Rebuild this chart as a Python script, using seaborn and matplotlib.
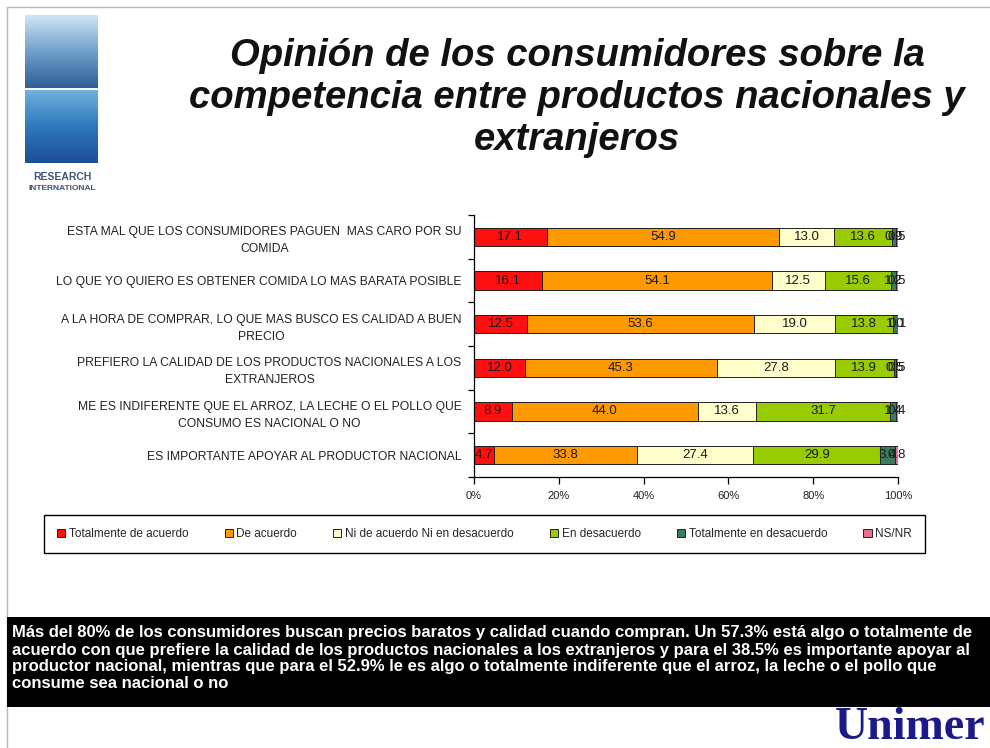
import numpy as np
import pandas as pd
import matplotlib
matplotlib.use("Agg")
import matplotlib.pyplot as plt
from matplotlib.patches import Rectangle, Patch
import seaborn as sns

# ---------------- data ----------------
categories = [
    "ESTA MAL QUE LOS CONSUMIDORES PAGUEN  MAS CARO POR SU\nCOMIDA",
    "LO QUE YO QUIERO ES OBTENER COMIDA LO MAS BARATA POSIBLE",
    "A LA HORA DE COMPRAR, LO QUE MAS BUSCO ES CALIDAD A BUEN\nPRECIO",
    "PREFIERO LA CALIDAD DE LOS PRODUCTOS NACIONALES A LOS\nEXTRANJEROS",
    "ME ES INDIFERENTE QUE EL ARROZ, LA LECHE O EL POLLO QUE\nCONSUMO ES NACIONAL O NO",
    "ES IMPORTANTE APOYAR AL PRODUCTOR NACIONAL",
]
series_names = ["Totalmente de acuerdo", "De acuerdo", "Ni de acuerdo Ni en desacuerdo",
                "En desacuerdo", "Totalmente en desacuerdo", "NS/NR"]
totalmente_de_acuerdo = [17.1, 16.1, 12.5, 12.0, 8.9, 4.7]
de_acuerdo = [54.9, 54.1, 53.6, 45.3, 44.0, 33.8]
ni_ni = [13.0, 12.5, 19.0, 27.8, 13.6, 27.4]
en_desacuerdo = [13.6, 15.6, 13.8, 13.9, 31.7, 29.9]
totalmente_en_desacuerdo = [0.9, 1.2, 1.0, 0.5, 1.4, 3.4]
ns_nr = [0.5, 0.5, 0.1, 0.5, 0.4, 0.8]
x_ticks = [0, 20, 40, 60, 80, 100]

colors = ["#FF1010", "#FF9900", "#FFFFCC", "#99CC00", "#3F7A5E", "#E8708F"]

title = "Opinión de los consumidores sobre la\ncompetencia entre productos nacionales y\nextranjeros"
note_lines = [
    "Más del 80% de los consumidores buscan precios baratos y calidad cuando compran. Un 57.3% está algo o totalmente de",
    "acuerdo con que prefiere la calidad de los productos nacionales a los extranjeros y para el 38.5% es importante apoyar al",
    "productor nacional, mientras que para el 52.9% le es algo o totalmente indiferente que el arroz, la leche o el pollo que",
    "consume sea nacional o no",
]

# ---------------- figure ----------------
sns.set_style("white")
plt.rcParams["font.family"] = ["Liberation Sans", "DejaVu Sans"]

W, H = 990, 748
fig = plt.figure(figsize=(W / 100, H / 100), dpi=100)
fig.patch.set_facecolor("white")

def fx(x):
    return x / W

def fy(y):
    return 1 - y / H

# slide border
fig.add_artist(Rectangle((fx(7), fy(760)), fx(1000) - fx(7), fy(7) - fy(760),
                         transform=fig.transFigure, fill=False, edgecolor="#b8b8b8", lw=1))

# main axes
ax = fig.add_axes([fx(474), fy(477), fx(898) - fx(474), fy(215) - fy(477)])

series = [totalmente_de_acuerdo, de_acuerdo, ni_ni, en_desacuerdo, totalmente_en_desacuerdo, ns_nr]
vals = np.array(series).T  # rows = categories
cum = np.cumsum(vals, axis=1)

for i in reversed(range(len(series))):
    df = pd.DataFrame({"cat": categories, "val": cum[:, i]})
    sns.barplot(data=df, x="val", y="cat", orient="h", color=colors[i], saturation=1,
                width=0.42, edgecolor="#222222", linewidth=0.7, ax=ax)

# segment labels
for j in range(len(categories)):
    start = 0.0
    for i in range(len(series)):
        v = vals[j, i]
        ax.text(start + v / 2, j, f"{v:.1f}", ha="center", va="center",
                fontsize=9.5, color="#1a1a1a")
        start += v

ax.set_xlim(0, 100)
ax.set_ylim(5.5, -0.5)
ax.set_xticks(x_ticks)
ax.set_xticklabels([f"{t}%" for t in x_ticks])
ax.set_xlabel("")
ax.set_ylabel("")
for s in ["top", "right"]:
    ax.spines[s].set_visible(False)
for s in ["left", "bottom"]:
    ax.spines[s].set_color("black")
    ax.spines[s].set_linewidth(0.9)

ax.tick_params(axis="x", length=5, width=0.9, color="black", direction="out",
               labelsize=8, pad=5, labelcolor="#222222", bottom=True)
ax.tick_params(axis="y", which="major", length=0, pad=9, labelsize=8.7, labelcolor="#222222")
ax.set_yticks(np.arange(-0.5, 6.0, 1.0), minor=True)
ax.tick_params(axis="y", which="minor", length=4, width=0.9, color="black", direction="out", left=True)
for t in ax.get_yticklabels():
    t.set_multialignment("center")
    t.set_linespacing(1.55)

# legend
handles = [Patch(facecolor=c, edgecolor="#222222", linewidth=0.7) for c in colors]
leg = fig.legend(handles, series_names, ncol=6, loc="lower left",
                 bbox_to_anchor=(fx(44), fy(553), fx(925) - fx(44), fy(510) - fy(553)),
                 mode="expand", fontsize=8.5, handlelength=0.7, handleheight=0.7,
                 handletextpad=0.3, borderpad=1.1, borderaxespad=0,
                 frameon=True, fancybox=False, framealpha=1, edgecolor="black")
leg.get_frame().set_linewidth(1.0)

# title
fig.text(fx(577), fy(98), title, ha="center", va="center", fontsize=27.5,
         fontweight="bold", fontstyle="italic", linespacing=1.22, color="#111111")

# Research International logo
logo_top = fig.add_axes([fx(25), fy(88), fx(98) - fx(25), fy(15) - fy(88)])
grad = np.linspace(0, 1, 64)[:, None] * np.ones((1, 8))
logo_top.imshow(grad, cmap=matplotlib.colors.LinearSegmentedColormap.from_list(
    "w", ["#cfe4f2", "#6f9fcb", "#2f5f98"]), aspect="auto")
logo_top.axis("off")
logo_bot = fig.add_axes([fx(25), fy(163), fx(98) - fx(25), fy(90) - fy(163)])
logo_bot.imshow(grad, cmap=matplotlib.colors.LinearSegmentedColormap.from_list(
    "d", ["#6fb0dc", "#2f78bf", "#1c4f96"]), aspect="auto")
logo_bot.axis("off")
fig.text(fx(62), fy(177), "RESEARCH", ha="center", va="center", fontsize=7.5,
         fontweight="bold", color="#3f5578")
fig.text(fx(62), fy(189), "INTERNATIONAL", ha="center", va="center", fontsize=6,
         fontweight="bold", color="#3f5578")

# Unimer logo (below black band)
fig.text(fx(986), fy(739), "Unimer", ha="right", va="baseline", fontsize=33,
         fontweight="bold", color="#1a1a8a", family=["Liberation Serif", "DejaVu Serif"], zorder=1)

# black note band
fig.add_artist(Rectangle((fx(7), fy(707)), 1 - fx(7), fy(617) - fy(707),
                         transform=fig.transFigure, facecolor="black", edgecolor="none", zorder=5))

# fit note text width to reference line width
renderer = fig.canvas.get_renderer()
probe = fig.text(0, 0, note_lines[0], fontsize=10, fontweight="bold")
wpx = probe.get_window_extent(renderer).width
probe.remove()
note_size = 10 * (963 / wpx)
for k, line in enumerate(note_lines):
    fig.text(fx(12), fy(633 + k * 17), line, ha="left", va="center", fontsize=note_size,
             fontweight="bold", color="white", zorder=6)

fig.savefig("out.png", dpi=100, facecolor="white")
